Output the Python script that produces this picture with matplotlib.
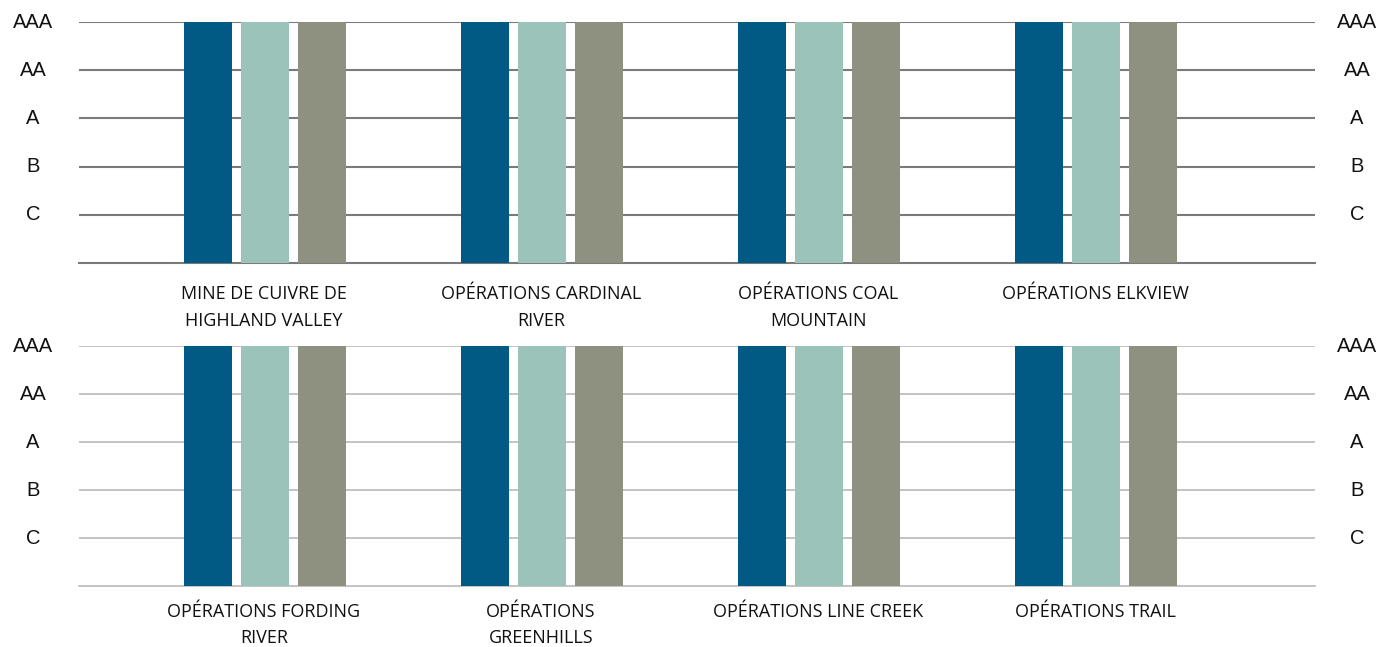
import matplotlib
matplotlib.use("Agg")
import matplotlib.pyplot as plt
from matplotlib.transforms import blended_transform_factory

# Rating scale (bottom to top)
rating_levels = ["C", "B", "A", "AA", "AAA"]
rating_values = [1, 2, 3, 4, 5]

# Categories per panel
categories_top = ["MINE DE CUIVRE DE\nHIGHLAND VALLEY", "OPÉRATIONS CARDINAL\nRIVER",
                  "OPÉRATIONS COAL\nMOUNTAIN", "OPÉRATIONS ELKVIEW"]
categories_bottom = ["OPÉRATIONS FORDING\nRIVER", "OPÉRATIONS\nGREENHILLS",
                     "OPÉRATIONS LINE CREEK", "OPÉRATIONS TRAIL"]

# Ratings for the three series (all AAA)
series1_top = ["AAA", "AAA", "AAA", "AAA"]
series2_top = ["AAA", "AAA", "AAA", "AAA"]
series3_top = ["AAA", "AAA", "AAA", "AAA"]
series1_bottom = ["AAA", "AAA", "AAA", "AAA"]
series2_bottom = ["AAA", "AAA", "AAA", "AAA"]
series3_bottom = ["AAA", "AAA", "AAA", "AAA"]

colors = ["#005A84", "#9CC3BA", "#8F9180"]

level_map = dict(zip(rating_levels, rating_values))

fig = plt.figure(figsize=(13.81, 6.47), dpi=100)
W, H = 1381, 647
left, right = 79 / W, 1315 / W

def panel(top_px, bot_px, cats, series, grid_color, grid_lw, label_off, lsp):
    ax = fig.add_axes([left, 1 - bot_px / H, right - left, (bot_px - top_px) / H])
    spacing = 277.0
    x0 = 265.0
    ax.set_xlim((79 - x0) / spacing, (1315 - x0) / spacing)
    ax.set_ylim(0, 5)
    for v in rating_values:
        ax.axhline(v, color=grid_color, lw=grid_lw, zorder=1)
    ax.axhline(0, color=grid_color, lw=grid_lw, zorder=1, clip_on=False)
    bw = 48 / spacing
    off = 57 / spacing
    for j, s in enumerate(series):
        xs = [i + (j - 1) * off for i in range(len(cats))]
        ax.bar(xs, [level_map[r] for r in s], width=bw, color=colors[j], zorder=2)
    for sp in ax.spines.values():
        sp.set_visible(False)
    ax.set_xticks([])
    ax.set_yticks([])
    tr = blended_transform_factory(fig.transFigure, ax.transData)
    for lab, v in zip(rating_levels, rating_values):
        ax.text(33 / W, v, lab, transform=tr, ha="center", va="center",
                fontsize=14.5, family="Liberation Sans", color="#111111")
        ax.text(1357 / W, v, lab, transform=tr, ha="center", va="center",
                fontsize=14.5, family="Liberation Sans", color="#111111")
    for i, c in enumerate(cats):
        fig.text((x0 + i * spacing - 1) / W, 1 - (bot_px + label_off) / H, c, ha="center", va="top",
                 fontsize=13, family="Open Sans", color="#111111", linespacing=lsp)
    return ax

panel(22, 263, categories_top, [series1_top, series2_top, series3_top], "#7a7a7a", 1.5, 22, 1.65)
panel(346, 586, categories_bottom, [series1_bottom, series2_bottom, series3_bottom], "#b3b3b3", 1.1, 17, 1.6)

fig.savefig("out.png", dpi=100)
